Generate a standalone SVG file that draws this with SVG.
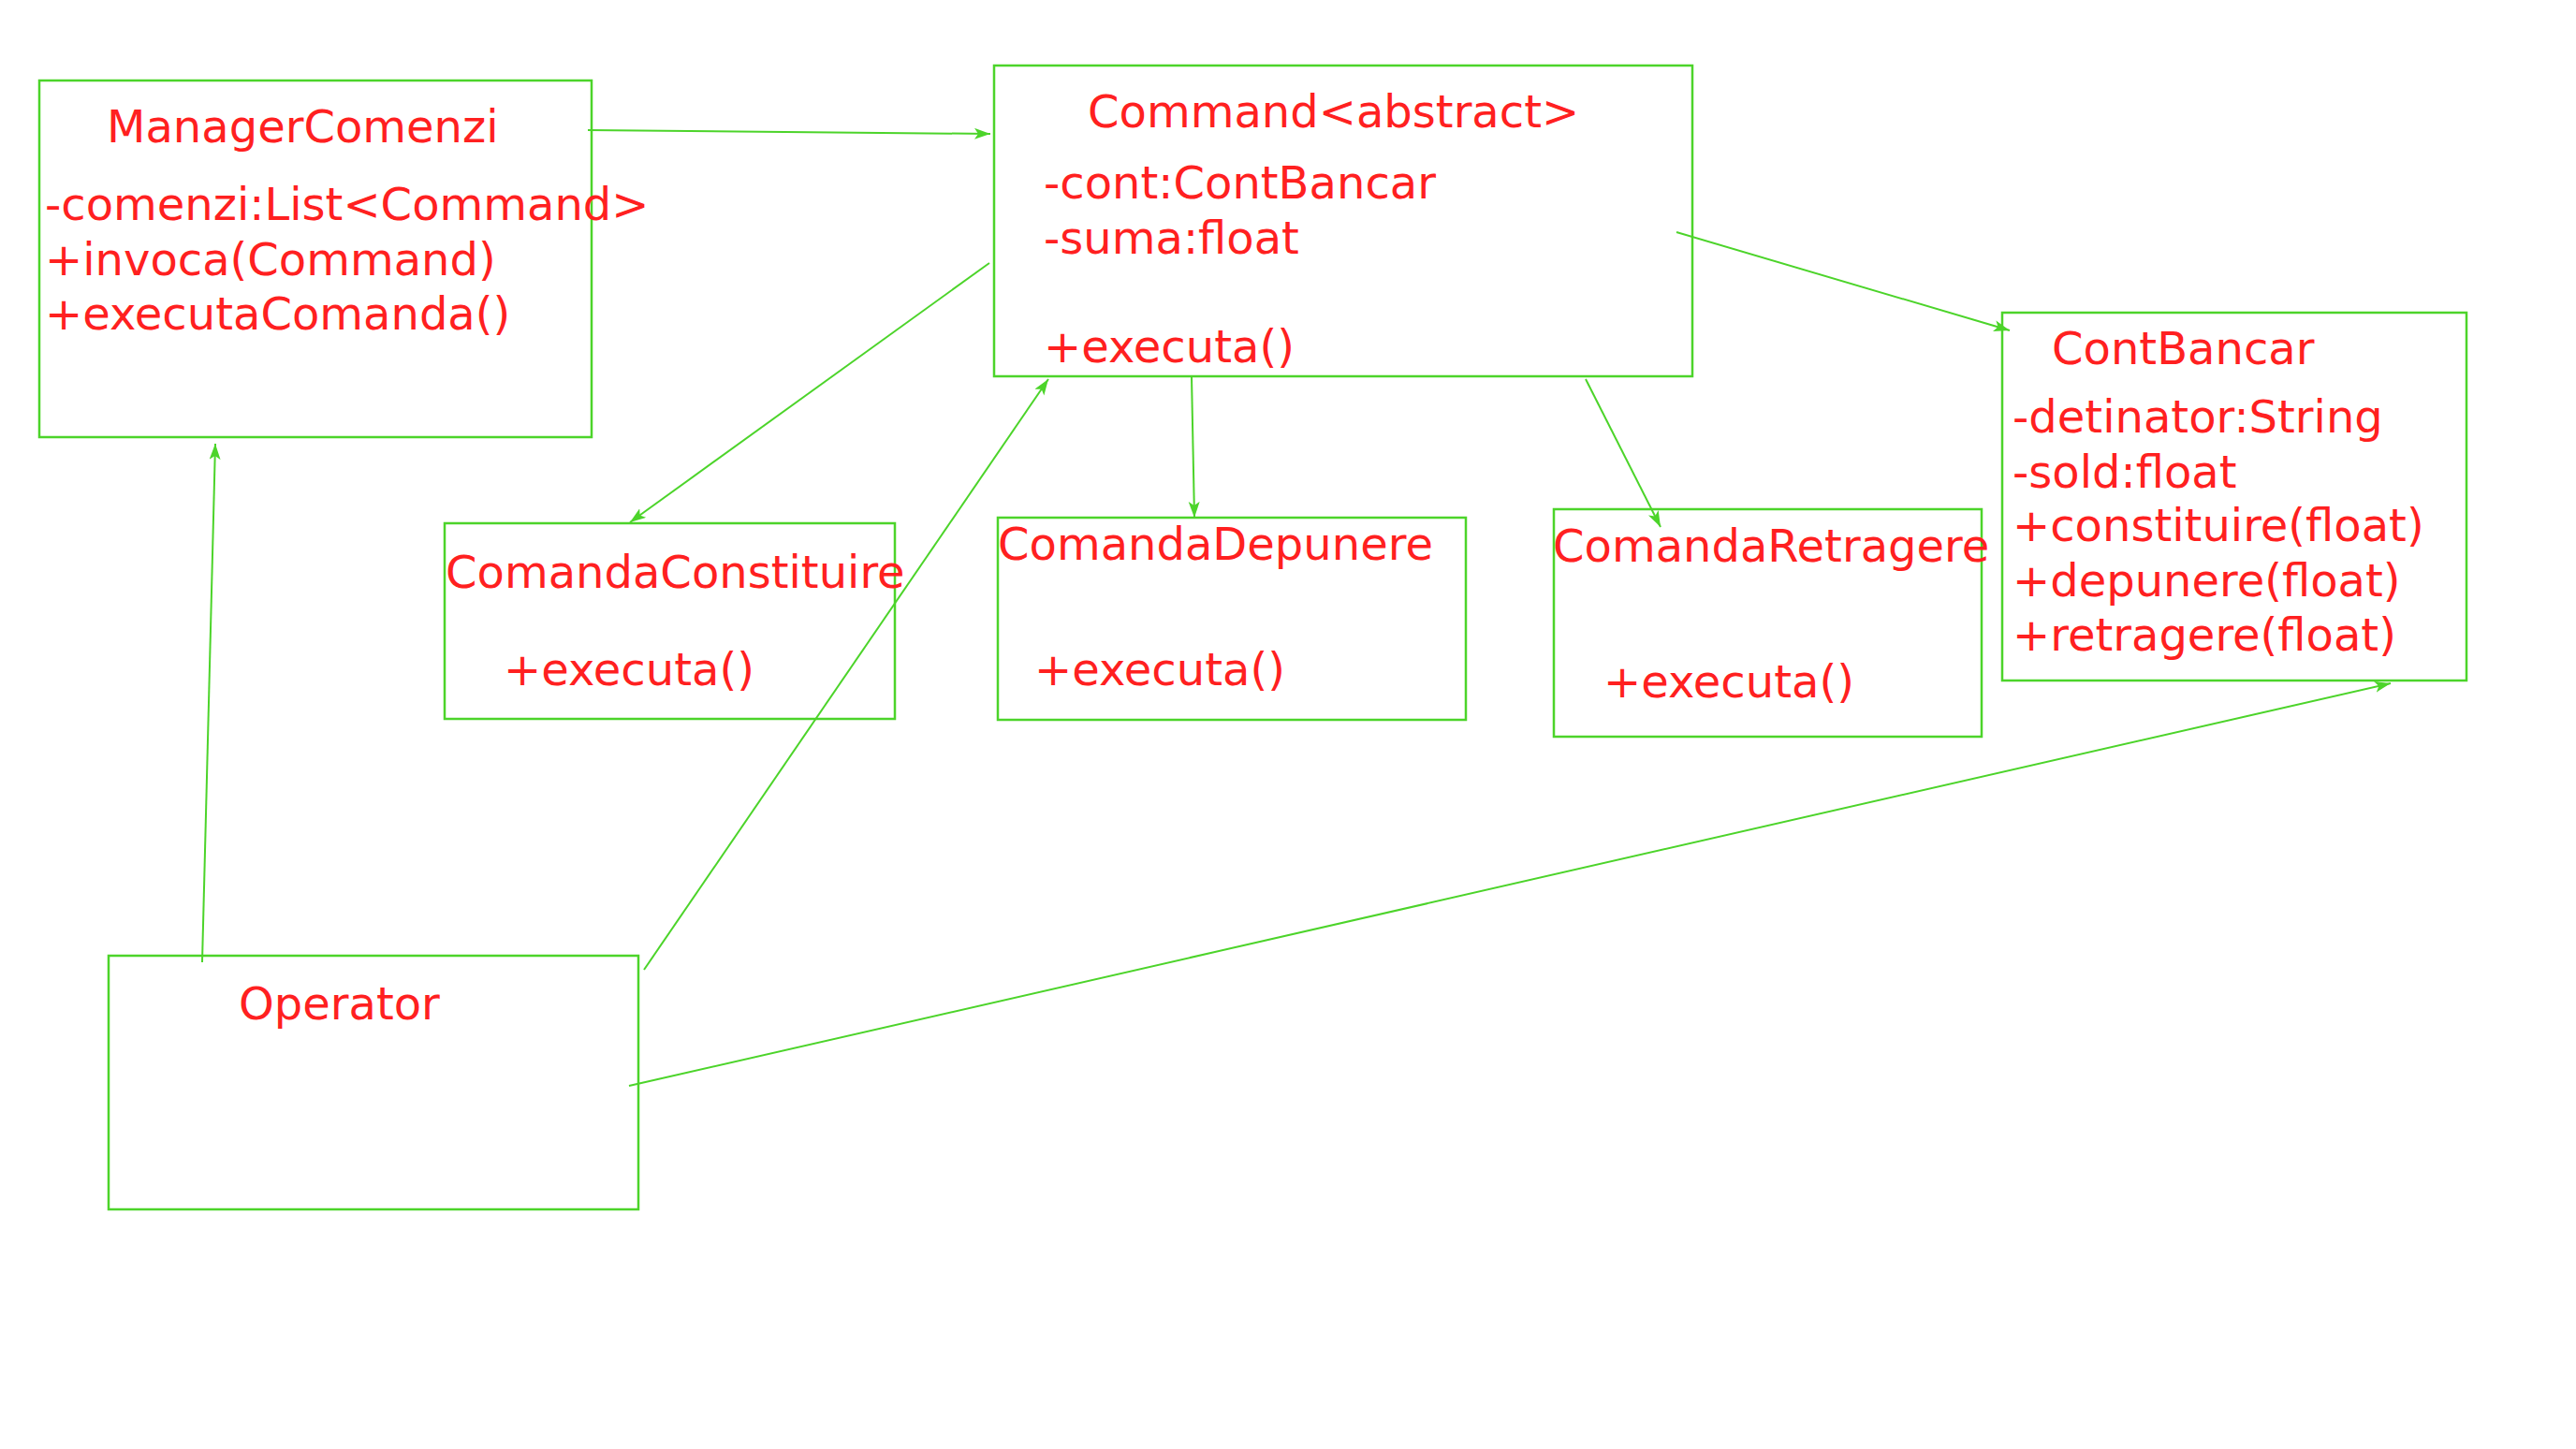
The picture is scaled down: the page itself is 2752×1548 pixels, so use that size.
<svg xmlns="http://www.w3.org/2000/svg" width="2752" height="1548" viewBox="0 0 2752 1548">
  <style>
    .box { fill: none; stroke: #4cd42a; stroke-width: 2.5; }
    .lbl { font-family: "DejaVu Sans", sans-serif; font-size: 48px; fill: #ff2020; }
    .edge { fill: none; stroke: #4cd42a; stroke-width: 2; }
  </style>
  <defs>
    <marker id="arrow" markerUnits="userSpaceOnUse" markerWidth="20" markerHeight="14" refX="17" refY="6" orient="auto">
      <path d="M0,0 L17,6 L0,12 L4,6 z" fill="#4cd42a"/>
    </marker>
  </defs>
  <rect width="2752" height="1548" fill="#ffffff"/>

  <g id="node-manager-comenzi">
    <rect class="box" x="42" y="86" width="590" height="381"/>
    <text class="lbl" x="114" y="152">ManagerComenzi</text>
    <text class="lbl" x="48" y="235">-comenzi:List&lt;Command&gt;</text>
    <text class="lbl" x="48" y="294">+invoca(Command)</text>
    <text class="lbl" x="48" y="352">+executaComanda()</text>
  </g>

  <g id="node-command">
    <rect class="box" x="1062" y="70" width="746" height="332"/>
    <text class="lbl" x="1162" y="136">Command&lt;abstract&gt;</text>
    <text class="lbl" x="1115" y="212">-cont:ContBancar</text>
    <text class="lbl" x="1115" y="271">-suma:float</text>
    <text class="lbl" x="1115" y="387">+executa()</text>
  </g>

  <g id="node-cont-bancar">
    <rect class="box" x="2139" y="334" width="496" height="393"/>
    <text class="lbl" x="2192" y="389">ContBancar</text>
    <text class="lbl" x="2150" y="462">-detinator:String</text>
    <text class="lbl" x="2150" y="521">-sold:float</text>
    <text class="lbl" x="2150" y="578">+constituire(float)</text>
    <text class="lbl" x="2150" y="637">+depunere(float)</text>
    <text class="lbl" x="2150" y="695">+retragere(float)</text>
  </g>

  <g id="node-comanda-constituire">
    <rect class="box" x="475" y="559" width="481" height="209"/>
    <text class="lbl" x="476" y="628">ComandaConstituire</text>
    <text class="lbl" x="538" y="732">+executa()</text>
  </g>

  <g id="node-comanda-depunere">
    <rect class="box" x="1066" y="553" width="500" height="216"/>
    <text class="lbl" x="1066" y="598">ComandaDepunere</text>
    <text class="lbl" x="1105" y="732">+executa()</text>
  </g>

  <g id="node-comanda-retragere">
    <rect class="box" x="1660" y="544" width="457" height="243"/>
    <text class="lbl" x="1659" y="600">ComandaRetragere</text>
    <text class="lbl" x="1713" y="745">+executa()</text>
  </g>

  <g id="node-operator">
    <rect class="box" x="116" y="1021" width="566" height="271"/>
    <text class="lbl" x="255" y="1089">Operator</text>
  </g>

  <g id="connectors">
    <line class="edge" x1="628" y1="139" x2="1058" y2="143" marker-end="url(#arrow)"/>
    <line class="edge" x1="1057" y1="281" x2="673" y2="558" marker-end="url(#arrow)"/>
    <line class="edge" x1="1273" y1="402" x2="1276" y2="553" marker-end="url(#arrow)"/>
    <line class="edge" x1="1694" y1="405" x2="1774" y2="563" marker-end="url(#arrow)"/>
    <line class="edge" x1="1791" y1="248" x2="2147" y2="353" marker-end="url(#arrow)"/>
    <line class="edge" x1="216" y1="1028" x2="230" y2="474" marker-end="url(#arrow)"/>
    <line class="edge" x1="688" y1="1036" x2="1120" y2="405" marker-end="url(#arrow)"/>
    <line class="edge" x1="672" y1="1160" x2="2554" y2="730" marker-end="url(#arrow)"/>
  </g>
</svg>
